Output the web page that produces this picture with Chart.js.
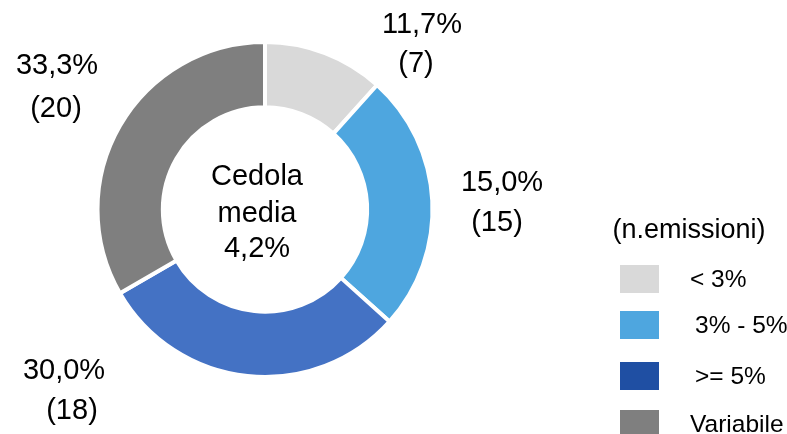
<!DOCTYPE html>
<html>
<head>
<meta charset="utf-8">
<script src="https://cdn.jsdelivr.net/npm/chart.js@4"></script>
<style>
    body { margin: 0; background: #fff; }
    #wrap { width: 787px; height: 434px; position: relative; }
</style>
</head>
<body>
<div id="wrap"><canvas id="cedolaChart"></canvas></div>
<script>
// Data
const categories = ['< 3%', '3% - 5%', '>= 5%', 'Variabile'];
const emissioni = [7, 15, 18, 20];
const pctLabels = ['11,7%', '15,0%', '30,0%', '33,3%'];
const centerLines = ['Cedola', 'media', '4,2%'];
const legendTitle = '(n.emissioni)';

// Styles
const sliceColors = ['#d9d9d9', '#4ea6df', '#4472c4', '#7f7f7f'];
const legendColors = ['#d9d9d9', '#4ea6df', '#1f4fa3', '#7f7f7f'];
const FONT = '"Liberation Sans", Arial, sans-serif';

// label block positions relative to doughnut centre: [pct dx, pct dy, count dx, count dy]
const labelOffsets = [
    [157, -185, 151, -146],
    [237, -27, 232, 13],
    [-201, 161, -193, 201],
    [-208, -144, -209, -101]
];

const labelPlugin = {
    id: 'labelPlugin',
    afterDraw(chart) {
        const ctx = chart.ctx;
        const arc = chart.getDatasetMeta(0).data[0];
        const cx = arc.x, cy = arc.y;
        ctx.save();
        ctx.fillStyle = '#000';
        ctx.textAlign = 'center';
        ctx.textBaseline = 'middle';
        ctx.font = '29px ' + FONT;

        // slice labels
        emissioni.forEach((v, i) => {
            const o = labelOffsets[i];
            ctx.fillText(pctLabels[i], cx + o[0], cy + o[1]);
            ctx.fillText('(' + v + ')', cx + o[2], cy + o[3]);
        });

        // centre text
        [-33, 4, 39].forEach((dy, i) => {
            ctx.fillText(centerLines[i], cx - 8, cy + dy);
        });

        // legend
        ctx.font = '27px ' + FONT;
        ctx.fillText(legendTitle, 689, 231);
        ctx.font = '24.5px ' + FONT;
        ctx.textAlign = 'left';
        const rowTops = [265, 311, 362, 410];
        const textX = [690, 695, 695, 690];
        categories.forEach((c, i) => {
            ctx.fillStyle = legendColors[i];
            ctx.fillRect(620, rowTops[i], 39, 28);
            ctx.fillStyle = '#000';
            ctx.fillText(c, textX[i], rowTops[i] + 15);
        });
        ctx.restore();
    }
};

new Chart(document.getElementById('cedolaChart'), {
    type: 'doughnut',
    data: {
        labels: categories,
        datasets: [{
            data: emissioni,
            backgroundColor: sliceColors,
            borderColor: '#ffffff',
            borderWidth: 4
        }]
    },
    options: {
        responsive: true,
        maintainAspectRatio: false,
        animation: false,
        cutout: '61%',
        layout: { padding: { left: 95, right: 352, top: 40, bottom: 55 } },
        plugins: {
            legend: { display: false },
            tooltip: { enabled: false }
        }
    },
    plugins: [labelPlugin]
});
</script>
</body>
</html>
